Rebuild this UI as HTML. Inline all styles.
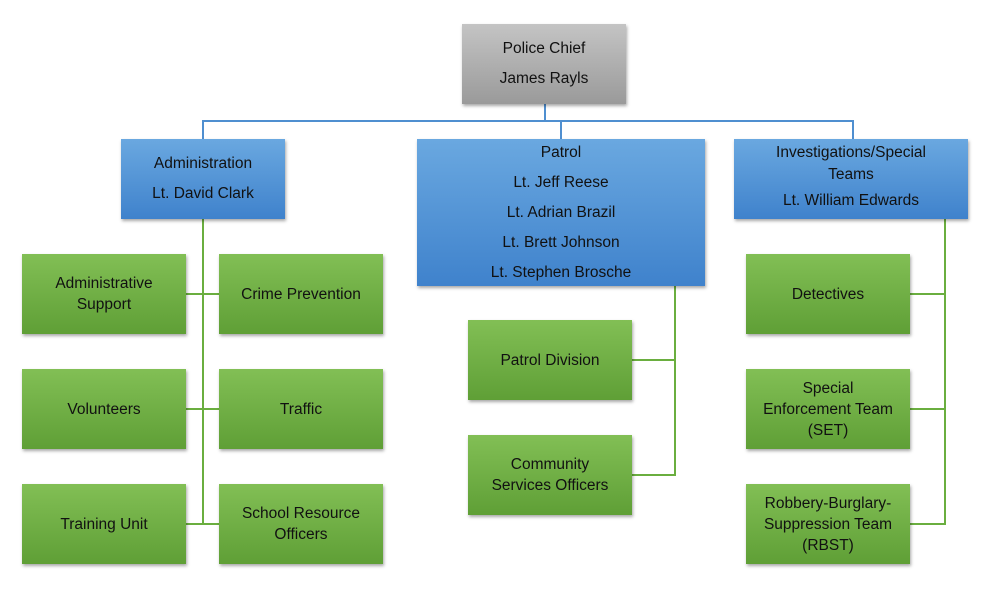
<!DOCTYPE html>
<html><head><style>
body{margin:0;width:1000px;height:597px;background:#fff;position:relative;overflow:hidden;font-family:"Liberation Sans",sans-serif;}
.b{position:absolute;display:flex;flex-direction:column;justify-content:center;align-items:center;text-align:center;font-size:15.5px;color:#111;line-height:22px;box-shadow:1px 2px 3px rgba(0,0,0,0.35);}
.g{background:linear-gradient(#82bf55,#5f9f36);width:164px;height:80px;line-height:21px;}
.u{background:linear-gradient(#6aa8e0,#3f82cc);}
.y{background:linear-gradient(#c4c4c4,#9a9a9a);}
.l{position:absolute;}
.bl{background:#4f8fd0;}
.gl{background:#6aae3f;}
</style></head><body>
<div class="l bl" style="left:544px;top:104px;width:2px;height:18px"></div>
<div class="l bl" style="left:202px;top:120px;width:652px;height:2px"></div>
<div class="l bl" style="left:202px;top:120px;width:2px;height:20px"></div>
<div class="l bl" style="left:560px;top:120px;width:2px;height:20px"></div>
<div class="l bl" style="left:852px;top:120px;width:2px;height:20px"></div>

<div class="l gl" style="left:202px;top:219px;width:2px;height:306px"></div>
<div class="l gl" style="left:186px;top:293px;width:34px;height:2px"></div>
<div class="l gl" style="left:186px;top:408px;width:34px;height:2px"></div>
<div class="l gl" style="left:186px;top:523px;width:34px;height:2px"></div>

<div class="l gl" style="left:674px;top:286px;width:2px;height:190px"></div>
<div class="l gl" style="left:632px;top:359px;width:44px;height:2px"></div>
<div class="l gl" style="left:632px;top:474px;width:44px;height:2px"></div>

<div class="l gl" style="left:944px;top:219px;width:2px;height:306px"></div>
<div class="l gl" style="left:910px;top:293px;width:36px;height:2px"></div>
<div class="l gl" style="left:910px;top:408px;width:36px;height:2px"></div>
<div class="l gl" style="left:910px;top:523px;width:36px;height:2px"></div>

<div class="b y" style="left:462px;top:24px;width:164px;height:80px;line-height:30px">Police Chief<br>James Rayls</div>
<div class="b u" style="left:121px;top:139px;width:164px;height:80px;line-height:30px">Administration<br>Lt. David Clark</div>
<div class="b u" style="left:417px;top:139px;width:288px;height:147px;line-height:30px">Patrol<br>Lt. Jeff Reese<br>Lt. Adrian Brazil<br>Lt. Brett Johnson<br>Lt. Stephen Brosche</div>
<div class="b u" style="left:734px;top:139px;width:234px;height:80px;line-height:22px">Investigations/Special<br>Teams<br><span style="line-height:30px">Lt. William Edwards</span></div>

<div class="b g" style="left:22px;top:254px">Administrative<br>Support</div>
<div class="b g" style="left:219px;top:254px">Crime Prevention</div>
<div class="b g" style="left:22px;top:369px">Volunteers</div>
<div class="b g" style="left:219px;top:369px">Traffic</div>
<div class="b g" style="left:22px;top:484px">Training Unit</div>
<div class="b g" style="left:219px;top:484px">School Resource<br>Officers</div>

<div class="b g" style="left:468px;top:320px">Patrol Division</div>
<div class="b g" style="left:468px;top:435px">Community<br>Services Officers</div>

<div class="b g" style="left:746px;top:254px">Detectives</div>
<div class="b g" style="left:746px;top:369px">Special<br>Enforcement Team<br>(SET)</div>
<div class="b g" style="left:746px;top:484px">Robbery-Burglary-<br>Suppression Team<br>(RBST)</div>
</body></html>
